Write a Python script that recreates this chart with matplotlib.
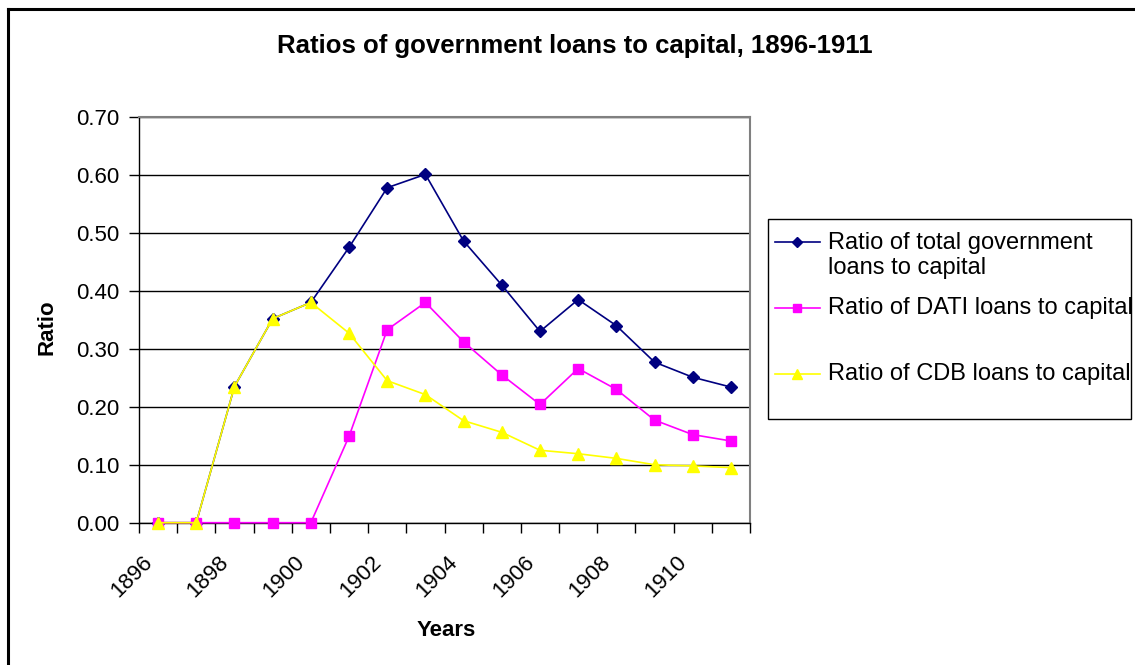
import matplotlib.pyplot as plt
from matplotlib.lines import Line2D
from matplotlib.patches import Rectangle
from matplotlib.ticker import FixedLocator, FormatStrFormatter
from matplotlib.transforms import ScaledTranslation

plt.rcParams['font.family'] = ['Liberation Sans', 'DejaVu Sans']

years = [str(y) for y in range(1896, 1912)]
total_ratio = [0.0, 0.0, 0.235, 0.352, 0.380, 0.475, 0.578, 0.601,
               0.486, 0.410, 0.330, 0.385, 0.340, 0.277, 0.251, 0.234]
dati_ratio = [0.0, 0.0, 0.0, 0.0, 0.0, 0.149, 0.333, 0.380,
              0.312, 0.255, 0.204, 0.266, 0.230, 0.177, 0.152, 0.141]
cdb_ratio = [0.0, 0.0, 0.235, 0.352, 0.380, 0.327, 0.245, 0.221,
             0.176, 0.156, 0.125, 0.119, 0.111, 0.100, 0.098, 0.095]
labels = ['Ratio of total government\nloans to capital',
          'Ratio of DATI loans to capital',
          'Ratio of CDB loans to capital']

W, H = 1135, 665
fig = plt.figure(figsize=(W / 100, H / 100), dpi=100)
fig.patch.set_facecolor('white')


def fx(x):
    return x / W


def fy(y):
    return 1 - y / H


ax = fig.add_axes([fx(139), fy(522.7), fx(750) - fx(139), fy(117) - fy(522.7)])

x = list(range(len(years)))
styles = [
    dict(color='#000080', marker='D', markersize=6.5),
    dict(color='#FF00FF', marker='s', markersize=6.5),
    dict(color='#FFFF00', marker='^', markersize=8.5),
]
for vals, st in zip([total_ratio, dati_ratio, cdb_ratio], styles):
    ax.plot(x, vals, lw=1.2, clip_on=False, zorder=3,
            markeredgecolor=st['color'], **st)

ax.set_xlim(-0.5, len(years) - 0.5)
ax.set_ylim(0, 0.7)
ax.set_yticks([i / 10 for i in range(8)])
ax.yaxis.set_major_formatter(FormatStrFormatter('%.2f'))
ax.yaxis.grid(True, color='black', lw=1.0)
ax.set_axisbelow(True)

# category boundaries carry the tick marks, every other category is labelled
ax.xaxis.set_major_locator(FixedLocator([i - 0.5 for i in range(len(years) + 1)]))
ax.xaxis.set_major_formatter(plt.NullFormatter())
ax.set_xticks(x[::2], minor=True)
ax.set_xticklabels(years[::2], minor=True, rotation=45, ha='right',
                   va='center', rotation_mode='anchor', fontsize=16)
ax.tick_params(axis='x', which='major', direction='out', length=7, width=1)
ax.tick_params(axis='x', which='minor', length=0, pad=26)
ax.tick_params(axis='y', direction='out', length=7, width=1, pad=7, labelsize=16)
shift = ScaledTranslation(-0.09, 0, fig.dpi_scale_trans)
for lab in ax.get_xticklabels(minor=True):
    lab.set_transform(lab.get_transform() + shift)

for s in ['top', 'right']:
    ax.spines[s].set_color('#808080')
    ax.spines[s].set_linewidth(1.5)
for s in ['left', 'bottom']:
    ax.spines[s].set_color('black')
    ax.spines[s].set_linewidth(1.0)

fig.text(fx(575), fy(46), 'Ratios of government loans to capital, 1896-1911',
         ha='center', va='center', fontsize=18.5, fontweight='bold')
fig.text(fx(47), fy(327), 'Ratio', ha='center', va='center', rotation=90,
         fontsize=16, fontweight='bold')
fig.text(fx(446), fy(630), 'Years', ha='center', va='center',
         fontsize=16, fontweight='bold')

# legend box
fig.add_artist(Rectangle((fx(767.5), fy(419)), fx(1131) - fx(767.5), fy(219) - fy(419),
                         transform=fig.transFigure, facecolor='white',
                         edgecolor='black', lw=1.0))
entry_y = [242, 308, 374]
for lab, st, ey in zip(labels, styles, entry_y):
    fig.add_artist(Line2D([fx(775), fx(820)], [fy(ey), fy(ey)], transform=fig.transFigure,
                          color=st['color'], lw=1.2))
    fig.add_artist(Line2D([fx(797)], [fy(ey)], transform=fig.transFigure, lw=0,
                          color=st['color'], marker=st['marker'],
                          markersize=st['markersize'] * 0.8))
    nlines = lab.count('\n') + 1
    fig.text(fx(828), fy(ey + (nlines - 1) * 13.5), lab, ha='left', va='center',
             fontsize=17, linespacing=1.15)

# outer chart border (top and left edges visible)
fig.add_artist(Line2D([fx(7.5), fx(7.5)], [fy(8.5), 0], transform=fig.transFigure,
                      color='black', lw=2.2))
fig.add_artist(Line2D([fx(7.5), 1], [fy(8.5), fy(8.5)], transform=fig.transFigure,
                      color='black', lw=2.2))

fig.savefig('out.png', dpi=100, facecolor='white')
